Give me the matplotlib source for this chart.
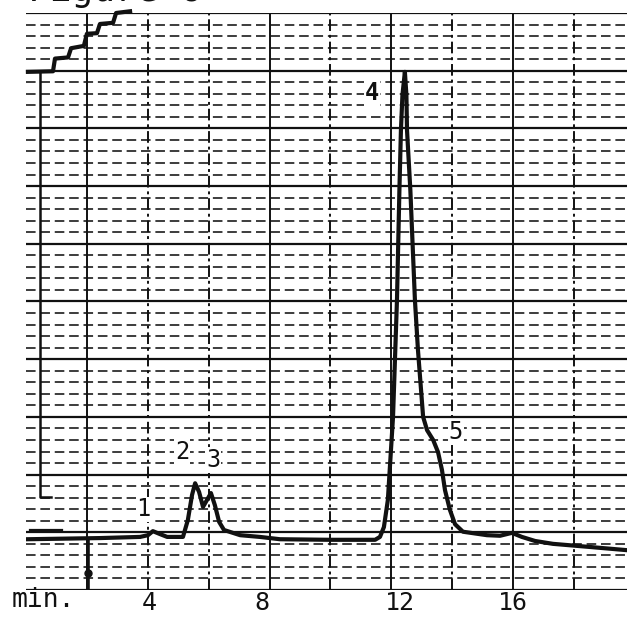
import matplotlib
matplotlib.use("Agg")
import matplotlib.pyplot as plt
import numpy as np

# ---- data (time in min, signal in chart-paper major divisions) ----
time_min = [0.05, 2.42, 3.74, 4.00, 4.16, 4.39, 4.63, 5.15, 5.31, 5.45, 5.55, 5.68,
            5.81, 5.94, 6.07, 6.20, 6.34, 6.50, 7.03, 7.68, 8.34, 9.99, 11.47, 11.63,
            11.76, 11.89, 12.06, 12.19, 12.27, 12.32, 12.37, 12.45, 12.50, 12.52, 12.63,
            12.78, 12.88, 13.05, 13.18, 13.38, 13.54, 13.67, 13.77, 13.93, 14.10, 14.36,
            15.15, 15.58, 15.97, 16.30, 16.73, 17.32, 18.44, 19.76]
signal = [0.88, 0.90, 0.92, 0.95, 1.02, 0.97, 0.92, 0.92, 1.21, 1.65, 1.85, 1.70,
          1.44, 1.56, 1.68, 1.47, 1.18, 1.04, 0.95, 0.92, 0.88, 0.87, 0.87, 0.92,
          1.09, 1.56, 3.00, 5.03, 6.93, 7.97, 8.58, 8.98, 8.58, 7.97, 6.93,
          5.03, 4.16, 3.00, 2.77, 2.60, 2.39, 2.08, 1.73, 1.39, 1.14, 1.01,
          0.95, 0.94, 0.99, 0.92, 0.85, 0.80, 0.75, 0.69]

# integrator (second pen) staircase at top-left
integ_t = [0.05, 0.875, 0.94, 1.37, 1.47, 1.89, 1.99, 2.32, 2.42, 2.85, 2.95, 3.41]
integ_v = [8.98, 8.99, 9.21, 9.23, 9.39, 9.43, 9.64, 9.65, 9.81, 9.83, 10.0, 10.03]
pen_line_t = [0.45, 0.45, 0.80]
pen_line_v = [8.98, 1.61, 1.61]
ref_line_t = [0.12, 1.17]
ref_line_v = [1.04, 1.04]
inject_t = [2.03, 2.03]
inject_v = [0.87, 0.0]
inject_dot = (2.03, 0.29)

peak_labels = ["1", "2", "3", "4", "5"]
peak_label_t = [3.85, 5.12, 6.14, 11.37, 14.13]
peak_label_v = [1.40, 2.39, 2.25, 8.61, 2.74]

tick_pos = [4.05, 7.75, 12.3, 16.0]
tick_labels = ["4", "8", "12", "16"]

major_h = list(range(0, 11))
minor_h = [round(v, 2) for v in np.arange(0, 10, 0.2) if abs(v - round(v)) > 1e-6]
vert_solid = [2, 8, 12, 16]
vert_dashed = [4, 6, 10, 14, 18]

# ---- figure ----
W, H = 627, 617
fig = plt.figure(figsize=(W / 100, H / 100), dpi=100)
x0, x1, ytop, ybot = 26.4, 627, 13, 590
ax = fig.add_axes([x0 / W, (H - ybot) / H, (x1 - x0) / W, (ybot - ytop) / H])
ax.set_xlim(0, (x1 - x0) / 30.4)
ax.set_ylim(0, 10)
for s in ax.spines.values():
    s.set_visible(False)

mono = "DejaVu Sans Mono"
ink = "#111111"

for v in major_h:
    ax.axhline(v, color=ink, lw=1.6, zorder=1)
for v in minor_h:
    ax.axhline(v, color=ink, lw=1.15, ls=(0, (6, 3)), zorder=1)
for t in vert_solid:
    ax.axvline(t, color=ink, lw=1.4, zorder=1)
for t in vert_dashed:
    ax.axvline(t, color=ink, lw=1.4, ls=(0, (6, 2, 1.5, 2)), zorder=1)

ax.plot(time_min, signal, color=ink, lw=3.0, solid_joinstyle="round", zorder=3)
ax.plot(integ_t, integ_v, color=ink, lw=3.0, clip_on=False, zorder=3)
ax.plot(pen_line_t, pen_line_v, color=ink, lw=1.8, zorder=3)
ax.plot(ref_line_t, ref_line_v, color=ink, lw=1.6, zorder=3)
ax.plot(inject_t, inject_v, color=ink, lw=2.6, zorder=3)
ax.plot([inject_dot[0]], [inject_dot[1]], "o", color=ink, ms=5, zorder=3)

for lab, t, v in zip(peak_labels, peak_label_t, peak_label_v):
    ax.text(t, v, lab, ha="center", va="center", fontsize=17, family=mono,
            fontweight="bold" if lab == "4" else "normal", color=ink, zorder=4,
            bbox=dict(facecolor="white", edgecolor="none", pad=0.5))

ax.set_yticks([])
ax.set_xticks(tick_pos)
ax.set_xticklabels(tick_labels, family=mono, fontsize=18, color=ink)
ax.tick_params(axis="x", length=0, pad=0.5)

fig.text(12 / W, (H - 607) / H, "min.", family=mono, fontsize=19, color=ink,
         ha="left", va="baseline")
fig.text(28 / W, (H - 1.5) / H, "Figure 6", family=mono, fontsize=26, color=ink,
         ha="left", va="baseline")

fig.savefig("out.png", dpi=100, facecolor="white")
